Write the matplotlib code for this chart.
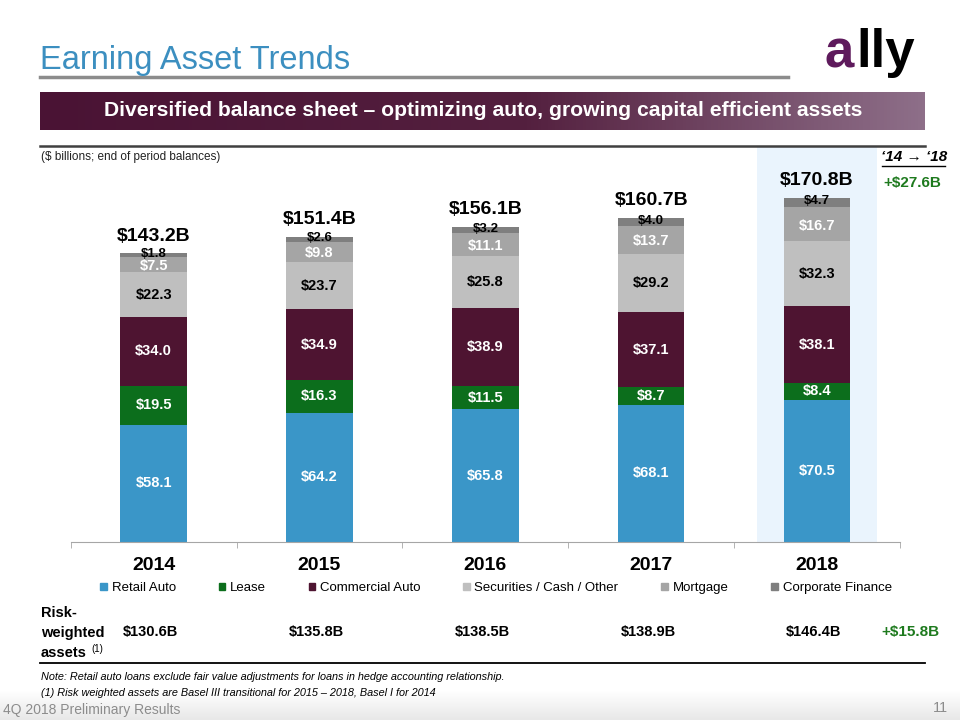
import numpy as np
import matplotlib
matplotlib.use('Agg')
import matplotlib.pyplot as plt
from matplotlib.patches import Rectangle
from matplotlib.colors import LinearSegmentedColormap
from matplotlib.lines import Line2D
import matplotlib.transforms as mtrans

plt.rcParams['font.family'] = ['Liberation Sans', 'DejaVu Sans']

# ─── DATA ─────────────────────────────────────────────────────
years = ["2014", "2015", "2016", "2017", "2018"]
retail_auto = [58.1, 64.2, 65.8, 68.1, 70.5]
lease = [19.5, 16.3, 11.5, 8.7, 8.4]
commercial_auto = [34.0, 34.9, 38.9, 37.1, 38.1]
securities = [22.3, 23.7, 25.8, 29.2, 32.3]
mortgage = [7.5, 9.8, 11.1, 13.7, 16.7]
corp_finance = [1.8, 2.6, 3.2, 4.0, 4.7]
totals = ["$143.2B", "$151.4B", "$156.1B", "$160.7B", "$170.8B"]
rwa = ["$130.6B", "$135.8B", "$138.5B", "$138.9B", "$146.4B"]

series_names = ["Retail Auto", "Lease", "Commercial Auto",
                "Securities / Cash / Other", "Mortgage", "Corporate Finance"]
series_vals = [retail_auto, lease, commercial_auto, securities, mortgage, corp_finance]
series_colors = ["#3A96C8", "#0C6E1C", "#4E1431", "#BFBFBF", "#A5A5A5", "#7F7F7F"]
label_colors = ["white", "white", "white", "black", "white", "black"]
label_sizes = [10.5, 10.5, 10.5, 10.5, 10.5, 9.5]
label_nudge = [0, 0, 0, 0, -0.7, 0.7]  # separa las etiquetas de los segmentos finos

W, H = 960, 720


def fx(x):
    return x / W


def fy(y):
    return 1 - y / H


fig = plt.figure(figsize=(9.6, 7.2), dpi=100)

# ─── FONDO (degradado inferior) ──────────────────────────────
bg = fig.add_axes([0, 0, 1, 1], zorder=-10)
grad = np.ones((H, 1))
grad[690:, 0] = np.linspace(1, 0.15, H - 690)
bg_cmap = LinearSegmentedColormap.from_list("bg", ["#E4E4E4", "#FFFFFF"])
bg.imshow(grad, aspect="auto", cmap=bg_cmap, extent=[0, 1, 0, 1], vmin=0, vmax=1)
bg.axis("off")

# ─── TITULO ───────────────────────────────────────────────────
fig.text(fx(40), fy(60), "Earning Asset Trends", fontsize=23.5, color="#3C8FC0",
         va="center", ha="left")
fig.add_artist(Line2D([fx(40), fx(788)], [fy(77), fy(77)], color="#8C8C8C", lw=2.5))

# logo
fig.text(fx(825), fy(53), "a", fontsize=38, fontweight="bold", color="#5E1A5C",
         va="center", ha="left")
fig.text(fx(856), fy(53), "lly", fontsize=38, fontweight="bold", color="black",
         va="center", ha="left")

# banner
bax = fig.add_axes([fx(40), fy(130), fx(925) - fx(40), (130 - 92) / H])
ban_cmap = LinearSegmentedColormap.from_list(
    "ban", [(0, "#4A1334"), (0.55, "#54203F"), (1, "#8E6F89")])
bax.imshow(np.linspace(0, 1, 256).reshape(1, -1), aspect="auto", cmap=ban_cmap)
bax.axis("off")
fig.text(fx(483), fy(111), "Diversified balance sheet \u2013 optimizing auto, growing capital efficient assets",
         fontsize=15.2, fontweight="bold", color="white", ha="center", va="center")

fig.add_artist(Line2D([fx(40), fx(925)], [fy(146), fy(146)], color="#404040", lw=1.8))
fig.text(fx(41), fy(157), "($ billions; end of period balances)", fontsize=8.5,
         color="#222222", ha="left", va="center")

# ─── GRAFICA ──────────────────────────────────────────────────
ax = fig.add_axes([fx(70.7), fy(542), fx(900) - fx(70.7), (542 - 147) / H])
x = np.arange(len(years))
ax.set_xlim(-0.5, len(years) - 0.5)
ax.set_ylim(0, 196)
ax.axvspan(4 - 0.36, 4 + 0.36, color="#EAF4FD", zorder=0, lw=0)

bottom = np.zeros(len(years))
for vals, col, lcol, fs, dy in zip(series_vals, series_colors, label_colors,
                                   label_sizes, label_nudge):
    vals = np.array(vals)
    ax.bar(x, vals, bottom=bottom, width=0.40, color=col, zorder=2)
    for xi, b, v in zip(x, bottom, vals):
        ax.text(xi, b + v / 2 + dy, f"${v:.1f}", ha="center", va="center",
                fontsize=fs, fontweight="bold", color=lcol, zorder=3)
    bottom = bottom + vals

for xi, top, lab in zip(x, bottom, totals):
    ax.text(xi, top + 8.6, lab, ha="center", va="center", fontsize=14,
            fontweight="bold", color="black")

for s in ["top", "left", "right"]:
    ax.spines[s].set_visible(False)
ax.spines["bottom"].set_color("#A6A6A6")
ax.set_yticks([])
ax.set_xticks(x)
ax.set_xticklabels(years, fontsize=14, fontweight="bold")
ax.tick_params(axis="x", which="major", length=0, pad=11)
ax.set_xticks(np.arange(-0.5, len(years)), minor=True)
ax.tick_params(axis="x", which="minor", length=4, color="#A6A6A6", direction="out")

# leyenda
handles = [Rectangle((0, 0), 1, 1, color=c) for c in series_colors]
fig.legend(handles, series_names, loc="center", bbox_to_anchor=(fx(496), fy(588)),
           ncol=6, frameon=False, fontsize=9.5, handlelength=0.5, handleheight=0.5,
           handletextpad=0.35, columnspacing=3.25, borderaxespad=0)

# ─── ACTIVOS PONDERADOS POR RIESGO ────────────────────────────
fig.text(fx(41), fy(613), "Risk-", fontsize=10.5, fontweight="bold", va="center")
fig.text(fx(41), fy(633), "weighted", fontsize=10.5, fontweight="bold", va="center")
fig.text(fx(41), fy(653), "assets", fontsize=10.5, fontweight="bold", va="center")
fig.text(fx(91), fy(649), "(1)", fontsize=7, va="center")

tr = mtrans.blended_transform_factory(ax.transData, fig.transFigure)
for xi, lab in zip(x, rwa):
    ax.text(xi - 0.02, fy(632), lab, transform=tr, ha="center", va="center",
            fontsize=10.5, fontweight="bold")

fig.text(fx(910), fy(632), "+$15.8B", fontsize=11, fontweight="bold",
         color="#1E7A1E", ha="center", va="center")

# '14 -> '18
fig.text(fx(914), fy(157), "\u201814 \u2192 \u201818", fontsize=11, fontweight="bold",
         style="italic", ha="center", va="center")
fig.add_artist(Line2D([fx(882), fx(945)], [fy(166), fy(166)], color="black", lw=1))
fig.text(fx(912), fy(183), "+$27.6B", fontsize=11, fontweight="bold",
         color="#1E7A1E", ha="center", va="center")

# ─── NOTAS ────────────────────────────────────────────────────
fig.add_artist(Line2D([fx(40), fx(925)], [fy(663), fy(663)], color="black", lw=1.3))
fig.text(fx(41), fy(677), "Note: Retail auto loans exclude fair value adjustments for loans in hedge accounting relationship.",
         fontsize=7.8, style="italic", va="center")
fig.text(fx(41), fy(693), "(1) Risk weighted assets are Basel III transitional for 2015 \u2013 2018, Basel I for 2014",
         fontsize=7.8, style="italic", va="center")
fig.text(fx(3), fy(710), "4Q 2018 Preliminary Results", fontsize=10, color="#8C8C8C",
         va="center")
fig.text(fx(948), fy(708), "11", fontsize=10.5, color="#8C8C8C", va="center", ha="right")

plt.savefig("out.png", dpi=100)
plt.close()
